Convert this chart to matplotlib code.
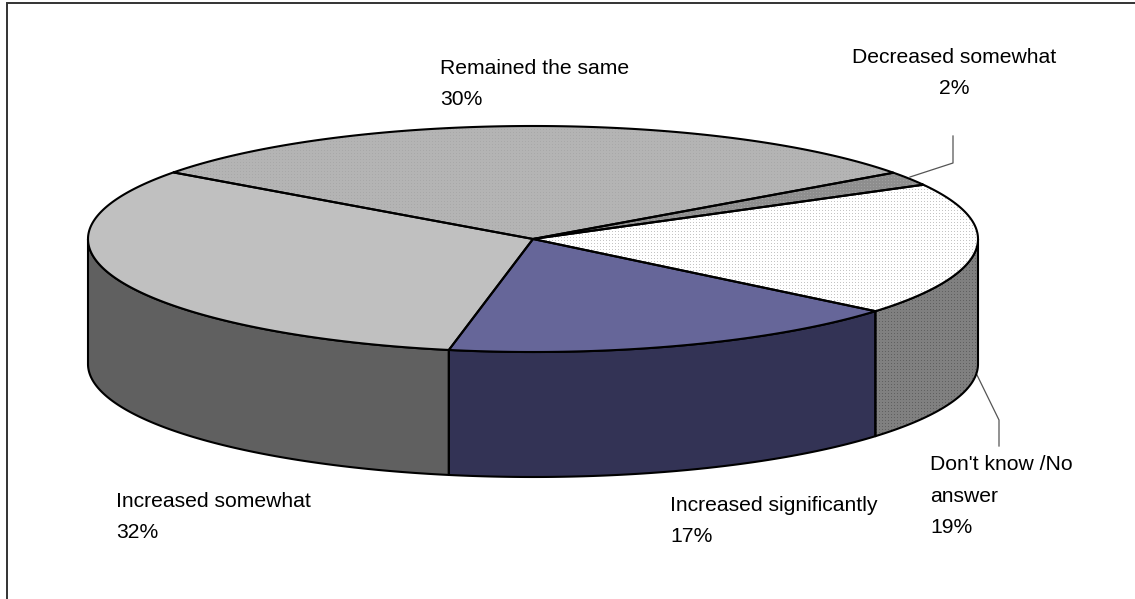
import numpy as np
import matplotlib
matplotlib.use("Agg")
import matplotlib.pyplot as plt
from matplotlib.patches import Polygon

labels = ["Increased significantly", "Don't know /No\nanswer", "Decreased somewhat",
          "Remained the same", "Increased somewhat"]
values = [17, 19, 2, 30, 32]

top_colors = ["#666699", "#FFFFFF", "#8E8E8E", "#B4B4B4", "#C0C0C0"]
dot_colors = [None, "#C4C4C4", "#A0A0A0", "#A8A8A8", None]
wall_colors = ["#333355", "#808080", "#555555", "#5A5A5A", "#606060"]
wall_dots = [None, "#606060", None, None, None]

W, H = 1135, 599
CX, CY, RX, RY, DEPTH = 533, 239, 445, 113, 125
START = 100.9   # degrees, screen y pointing down, sweeping towards smaller angles

fig = plt.figure(figsize=(W / 100, H / 100), dpi=100)
ax = fig.add_axes([0, 0, 1, 1])
ax.set_xlim(0, W)
ax.set_ylim(H, 0)
ax.axis("off")
LW = 1.5


def ell(t, dy=0):
    r = np.radians(t)
    return np.column_stack([CX + RX * np.cos(r), CY + dy + RY * np.sin(r)])


def fill(poly, base, dots, zorder):
    patch = Polygon(poly, closed=True, facecolor=base, edgecolor="none", zorder=zorder)
    ax.add_patch(patch)
    if dots is not None:
        yy, xx = np.mgrid[0:H, 0:W]
        mask = (xx % 3 == 0) & (yy % 3 == 0)
        b = np.array(matplotlib.colors.to_rgb(base))
        d = np.array(matplotlib.colors.to_rgb(dots))
        img = np.where(mask[..., None], d, b)
        im = ax.imshow(img, extent=(0, W, H, 0), interpolation="nearest",
                       zorder=zorder + 0.1, aspect="auto")
        im.set_clip_path(patch)
    ax.add_patch(Polygon(poly, closed=True, fill=False, edgecolor="black",
                         linewidth=LW, joinstyle="round", zorder=zorder + 0.2))


edges = START - np.cumsum([0] + values) * 3.6

# side walls: only the front half of the rim (0..180 degrees) is visible
for i in range(len(values)):
    for k in (0, 360):
        a, b = max(edges[i + 1] + k, 0), min(edges[i] + k, 180)
        if a >= b:
            continue
        t = np.linspace(a, b, 200)
        poly = np.vstack([ell(t), ell(t[::-1], DEPTH)])
        fill(poly, wall_colors[i], wall_dots[i], 2)

# top face
for i in range(len(values)):
    t = np.linspace(edges[i], edges[i + 1], 300)
    poly = np.vstack([[[CX, CY]], ell(t)])
    fill(poly, top_colors[i], dot_colors[i], 3)

# frame: only the top and left rules fall inside the crop
ax.plot([7, 7, W], [H, 3, 3], color="#333333", linewidth=1.4, zorder=1, solid_joinstyle="miter")

# leader lines
ax.plot([910, 953, 953], [177, 163, 136], color="#555555", linewidth=0.9, zorder=1)
ax.plot([977, 999, 999], [375, 420, 446], color="#555555", linewidth=0.9, zorder=1)

font = dict(family="Liberation Sans", color="black", fontsize=15.2, linespacing=1.82, zorder=5,
            va="baseline")
ax.text(440, 105, f"{labels[3]}\n{values[3]}%", ha="left", **font)
ax.text(954, 94, f"{labels[2]}\n{values[2]}%", ha="center", multialignment="center", **font)
ax.text(930, 533, f"{labels[1]}\n{values[1]}%", ha="left", **font)
ax.text(670, 542, f"{labels[0]}\n{values[0]}%", ha="left", **font)
ax.text(116, 538, f"{labels[4]}\n{values[4]}%", ha="left", **font)

fig.savefig("out.png", dpi=100)
